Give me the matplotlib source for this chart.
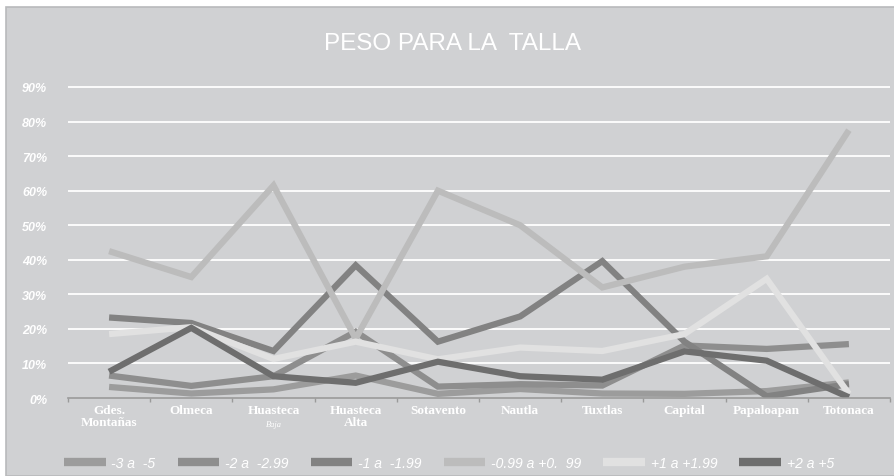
import numpy as np
from matplotlib import pyplot as plt
from matplotlib.patches import Rectangle

regiones = ['Gdes.\nMontañas', 'Olmeca', 'Huasteca', 'Huasteca\nAlta', 'Sotavento',
            'Nautla', 'Tuxtlas', 'Capital', 'Papaloapan', 'Totonaca']

s_m3 = [3.2, 1.3, 2.5, 6.5, 1.2, 2.6, 1.3, 1.2, 2.0, 4.5]
s_m2 = [6.5, 3.5, 6.3, 19.2, 3.3, 4.0, 3.6, 15.2, 14.2, 15.6]
s_m1 = [23.3, 21.7, 13.6, 38.4, 16.3, 23.6, 39.6, 16.3, 0.5, 4.0]
s_0 = [42.5, 35.0, 61.5, 17.2, 60.0, 50.0, 32.0, 38.0, 41.0, 77.5]
s_p1 = [18.5, 20.5, 11.3, 16.3, 11.2, 14.6, 13.6, 18.5, 34.5, 1.2]
s_p2 = [7.6, 20.3, 6.3, 4.4, 10.5, 6.3, 5.3, 13.5, 10.8, 0.2]

etiquetas = ['-3 a  -5', '-2 a  -2.99', '-1 a  -1.99', '-0.99 a +0.  99', '+1 a +1.99', '+2 a +5']
series = [s_m3, s_m2, s_m1, s_0, s_p1, s_p2]
colores = ['#9c9c9c', '#8e8e8e', '#828282', '#bcbcbc', '#e1e1e1', '#6e6e6e']

fondo = '#d0d1d3'
sans = ['Liberation Sans', 'DejaVu Sans']
serif = ['Liberation Serif', 'DejaVu Serif']

fig = plt.figure(figsize=(8.94, 4.77), dpi=100)
fig.patch.set_facecolor('white')
marco = Rectangle((6 / 894, 0), 1, 1 - 8 / 477, transform=fig.transFigure,
                  facecolor=fondo, edgecolor='#b9babc', linewidth=1.2, zorder=-10)
fig.patches.append(marco)

ax = fig.add_axes([68 / 894, 1 - 399 / 477, 822 / 894, (399 - 87) / 477])
ax.patch.set_alpha(0)

x = np.arange(len(regiones))
for vals, lab, c in zip(series, etiquetas, colores):
    ax.plot(x, np.array(vals) / 100, color=c, lw=4.5, label=lab, solid_joinstyle='miter',
            solid_capstyle='butt', zorder=2)

ax.set_xlim(-0.5, 9.5)
ax.set_ylim(0, 0.9 * (399 - 87) / (399 - 88))
yt = np.arange(0, 0.91, 0.1)
ax.set_yticks(yt)
ax.set_yticklabels([f'{int(round(v * 100))}%' for v in yt], color='white', fontsize=9,
                   fontstyle='italic', fontweight='bold', family=sans)
ax.tick_params(axis='y', length=0, pad=15)
for v in yt[1:]:
    ax.axhline(v, color='white', lw=1.3, zorder=1)

ax.set_xticks(x)
ax.set_xticklabels(regiones, color='white', fontsize=9.5, fontweight='bold',
                   family=serif, linespacing=1.05, va='top')
ax.tick_params(axis='x', length=0, pad=4)
ax.set_xticks(np.arange(-0.5, 10, 1), minor=True)
ax.tick_params(axis='x', which='minor', length=3, color='#9a9a9a', width=1)
# segunda línea de Huasteca Baja, más pequeña y en cursiva
ax.text(2, -0.082, 'Baja', transform=ax.get_xaxis_transform(), ha='center', va='center',
        color='white', fontsize=6, fontstyle='italic', family=serif)

for side in ['top', 'right', 'left']:
    ax.spines[side].set_visible(False)
ax.spines['bottom'].set_color('#9a9a9a')
ax.spines['bottom'].set_linewidth(1.2)

fig.text(452 / 894, 1 - 44 / 477, 'PESO PARA LA  TALLA', ha='center', va='center',
         color='white', fontsize=17.5, family=sans)

leg = fig.legend(loc='center', bbox_to_anchor=(449 / 894, 1 - 464 / 477), ncol=6,
                 frameon=False, handlelength=3.0, handleheight=0.6, columnspacing=1.6,
                 handletextpad=0.4, prop={'family': sans, 'size': 10, 'style': 'italic'})
for h in leg.legend_handles:
    h.set_linewidth(6)
for t in leg.get_texts():
    t.set_color('white')

fig.savefig('out.png', dpi=100, facecolor='white')
